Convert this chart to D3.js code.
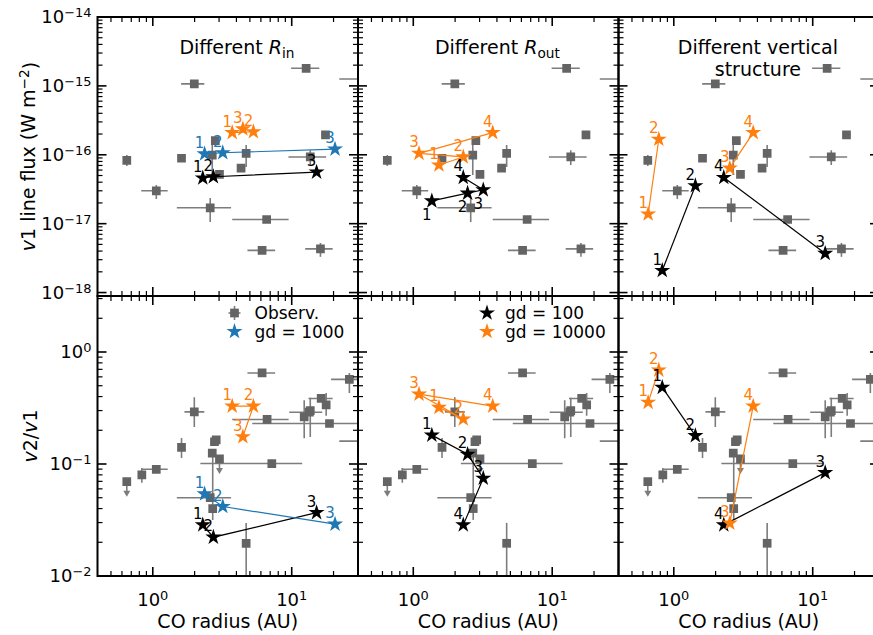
<!DOCTYPE html>
<html><head><meta charset="utf-8">
<script src="https://cdn.jsdelivr.net/npm/d3@7"></script>
<style>
body{margin:0;background:#fff}
svg{display:block}
text{font-family:"DejaVu Sans",sans-serif}
</style>
</head><body>
<svg id="chart" width="873" height="635"></svg>
<script>
// ---- Observed sources: v1 line flux versus CO radius ----
const fluxObsRadius   = [0.65, 1.06, 1.99, 1.61, 2.59, 2.82, 2.68, 3.02, 4.32, 4.70, 6.6, 6.12, 12.7, 13.6, 17.5, 16.1, 35];
const fluxObsValue    = [8.3e-17, 3.0e-17, 1.07e-15, 8.9e-17, 1.7e-17, 1.6e-16, 9.9e-17, 5.2e-17, 6.4e-17, 1.05e-16, 1.15e-17, 4.1e-18, 1.8e-15, 9.3e-17, 1.94e-16, 4.3e-18, 1.26e-15];
const fluxObsRadiusLo = [null, 0.826, 1.60, null, 1.49, null, null, null, null, null, 3.73, 4.8, 9.9, 9.47, 16.4, 12.5, 22];
const fluxObsRadiusHi = [null, 1.28, 2.35, null, 3.66, null, null, null, null, null, 9.5, 7.6, 15.8, 17.7, 18.7, 19.7, 55];
const fluxObsLo       = [6.9e-17, 2.29e-17, null, null, 1.06e-17, null, 5.1e-17, null, null, 6.65e-17, null, null, null, 7.1e-17, null, 3.3e-18, null];
const fluxObsHi       = [9.9e-17, 3.65e-17, null, null, 2.36e-17, null, 1.64e-16, null, null, 1.39e-16, null, null, null, 1.16e-16, null, 5.25e-18, null];

// ---- Observed sources: v2/v1 ratio versus CO radius ----
const ratioObsRadius   = [0.65, 0.834, 1.06, 1.61, 1.99, 2.78, 2.86, 2.68, 3.02, 2.59, 2.70, 4.70, 6.65, 7.19, 6.12, 12.3, 13.4, 13.6, 16.3, 17.7, 18.7, 26, 35];
const ratioObsValue    = [0.0695, 0.080, 0.0897, 0.141, 0.292, 0.158, 0.164, 0.125, 0.111, 0.050, 0.040, 0.0196, 0.25, 0.101, 0.65, 0.264, 0.29, 0.30, 0.385, 0.337, 0.23, 0.57, 0.16];
const ratioObsRadiusLo = [null, null, 0.826, null, 1.69, null, null, null, null, 1.49, null, null, 3.73, 2.2, 4.8, null, 9.6, null, 13.2, null, 5.2, 19.2, 22];
const ratioObsRadiusHi = [null, null, 1.28, null, 2.35, null, null, null, null, 3.66, null, null, 9.5, 11.9, 7.6, null, 16.6, null, 19.7, null, 40, 32, 50];
const ratioObsLo       = [null, 0.068, null, 0.113, 0.214, null, null, null, null, null, 0.0317, 0.008, null, null, null, 0.17, null, 0.174, null, 0.27, null, 0.43, null];
const ratioObsHi       = [null, 0.092, null, 0.171, 0.395, null, null, null, null, null, 0.12, 0.0298, null, null, null, 0.37, null, 0.39, null, 0.43, null, 0.65, null];
const ratioObsUpperLimit = [true, false, false, false, false, false, false, false, true, false, false, false, false, false, false, false, false, false, false, false, false, false, false];

// ---- Models: different inner radius ----
const rinGd100Radius   = [2.29, 2.73, 15.1];
const rinGd100Flux     = [4.6e-17, 4.8e-17, 5.6e-17];
const rinGd100Ratio    = [0.0286, 0.0222, 0.0368];
const rinGd1000Radius  = [2.36, 3.19, 20.5];
const rinGd1000Flux    = [1.03e-16, 1.07e-16, 1.21e-16];
const rinGd1000Ratio   = [0.054, 0.0417, 0.029];
const rinGd10000Radius = [3.73, 5.3, 4.45];
const rinGd10000Flux   = [2.1e-16, 2.16e-16, 2.37e-16];
const rinGd10000Ratio  = [0.329, 0.329, 0.175];

// ---- Models: different outer radius ----
const routGd100Radius   = [1.36, 2.46, 3.19, 2.29];
const routGd100Flux     = [2.14e-17, 2.77e-17, 3.1e-17, 4.68e-17];
const routGd100Ratio    = [0.181, 0.122, 0.0746, 0.0286];
const routGd10000Radius = [1.53, 2.29, 1.10, 3.73];
const routGd10000Flux   = [7.1e-17, 9.3e-17, 1.05e-16, 2.1e-16];
const routGd10000Ratio  = [0.32, 0.252, 0.42, 0.329];

// ---- Models: different vertical structure ----
const vertGd100Radius   = [0.826, 1.43, 12.3, 2.29];
const vertGd100Flux     = [2.09e-18, 3.55e-17, 3.7e-18, 4.68e-17];
const vertGd100Ratio    = [0.483, 0.179, 0.0837, 0.0286];
const vertGd10000Radius = [0.654, 0.78, 2.53, 3.73];
const vertGd10000Flux   = [1.38e-17, 1.68e-16, 6.4e-17, 2.1e-16];
const vertGd10000Ratio  = [0.355, 0.69, 0.0296, 0.329];

// ---- Axis settings ----
const radiusDomain = [0.4, 30];
const fluxDomain   = [Math.pow(10, -18.05), 1e-14];
const ratioDomain  = [0.01, Math.pow(10, 0.5)];
const fluxTickExps  = [-18, -17, -16, -15, -14];
const ratioTickExps = [-2, -1, 0];
const radiusTickExps = [0, 1];

const C_BLACK = "#000000", C_BLUE = "#1f77b4", C_ORANGE = "#ff7f0e";

// Each column: title, list of model series, and how the points are chained by lines
const columns = [
  { title: ["Different ", "R", "in"],
    series: [
      { name: "gd = 100",   color: C_BLACK,  r: rinGd100Radius,   f: rinGd100Flux,   q: rinGd100Ratio,   chains: [[0,1,2]] },
      { name: "gd = 1000",  color: C_BLUE,   r: rinGd1000Radius,  f: rinGd1000Flux,  q: rinGd1000Ratio,  chains: [[0,1,2]] },
      { name: "gd = 10000", color: C_ORANGE, r: rinGd10000Radius, f: rinGd10000Flux, q: rinGd10000Ratio, chains: [[0,1,2]] }
    ]},
  { title: ["Different ", "R", "out"],
    series: [
      { name: "gd = 100",   color: C_BLACK,  r: routGd100Radius,   f: routGd100Flux,   q: routGd100Ratio,   chains: [[0,1,2,3]], fluxLabelsBelow: [true,true,true,false] },
      { name: "gd = 10000", color: C_ORANGE, r: routGd10000Radius, f: routGd10000Flux, q: routGd10000Ratio, chains: [[0,1,2,3]] }
    ]},
  { title: ["Different vertical", "structure"],
    series: [
      { name: "gd = 100",   color: C_BLACK,  r: vertGd100Radius,   f: vertGd100Flux,   q: vertGd100Ratio,   chains: [[0,1],[2,3]] },
      { name: "gd = 10000", color: C_ORANGE, r: vertGd10000Radius, f: vertGd10000Flux, q: vertGd10000Ratio, chains: [[0,1],[2,3]] }
    ]}
];

// ---- Layout ----
const svg = d3.select("#chart");
const panelW = 260.5;
const colLeft = [97.5, 358, 618.5];
const rowTop = [17, 296];
const rowH = [279, 280];

const OBS_FILL = "#646464", OBS_ERR = "#7d7d7d";

function supText(sel, base, exp) {
  sel.append("tspan").text(base);
  sel.append("tspan").attr("dy", "-0.45em").attr("font-size", "0.72em")
     .text(exp < 0 ? "\u2212" + (-exp) : String(exp));
}

function logTickValues(domain) {
  const lo = Math.floor(Math.log10(domain[0])), hi = Math.ceil(Math.log10(domain[1]));
  const major = [], minor = [];
  for (let e = lo; e <= hi; e++) {
    const b = Math.pow(10, e);
    if (b >= domain[0] * 0.999 && b <= domain[1] * 1.001) major.push(b);
    for (let m = 2; m <= 9; m++) {
      const v = m * b;
      if (v > domain[0] && v < domain[1]) minor.push(v);
    }
  }
  return { major, minor };
}

const starSym = d3.symbol().type(d3.symbolStar).size(80);
const squareSym = d3.symbol().type(d3.symbolSquare).size(76);

for (let row = 0; row < 2; row++) {
  for (let col = 0; col < 3; col++) {
    const H = rowH[row];
    const g = svg.append("g").attr("transform", `translate(${colLeft[col]},${rowTop[row]})`);
    const clipId = `clip-${row}-${col}`;
    g.append("clipPath").attr("id", clipId).append("rect").attr("width", panelW).attr("height", H);

    const x = d3.scaleLog().domain(radiusDomain).range([0, panelW]);
    const y = d3.scaleLog().domain(row === 0 ? fluxDomain : ratioDomain).range([H, 0]);

    const plot = g.append("g").attr("clip-path", `url(#${clipId})`);

    // observations with error bars
    const ox = row === 0 ? fluxObsRadius : ratioObsRadius;
    const oy = row === 0 ? fluxObsValue : ratioObsValue;
    const oxLo = row === 0 ? fluxObsRadiusLo : ratioObsRadiusLo;
    const oxHi = row === 0 ? fluxObsRadiusHi : ratioObsRadiusHi;
    const oyLo = row === 0 ? fluxObsLo : ratioObsLo;
    const oyHi = row === 0 ? fluxObsHi : ratioObsHi;
    const errG = plot.append("g").attr("stroke", OBS_ERR).attr("stroke-width", 1.6).attr("fill", "none");
    ox.forEach((xv, i) => {
      const px = x(xv), py = y(oy[i]);
      if (oxLo[i] != null) errG.append("line").attr("x1", x(oxLo[i])).attr("x2", x(oxHi[i])).attr("y1", py).attr("y2", py);
      if (oyLo[i] != null) errG.append("line").attr("x1", px).attr("x2", px).attr("y1", y(oyLo[i])).attr("y2", y(oyHi[i]));
      if (row === 1 && ratioObsUpperLimit[i]) {
        errG.append("line").attr("x1", px).attr("x2", px).attr("y1", py).attr("y2", py + 10);
        plot.append("path").attr("fill", OBS_ERR)
          .attr("d", `M${px - 3.5},${py + 9}L${px + 3.5},${py + 9}L${px},${py + 15}Z`);
      }
    });
    plot.append("g").selectAll("path").data(ox).join("path")
      .attr("transform", (d, i) => `translate(${x(d)},${y(oy[i])})`)
      .attr("d", squareSym()).attr("fill", OBS_FILL);

    // model tracks
    const colCfg = columns[col];
    colCfg.series.forEach(s => {
      const vals = row === 0 ? s.f : s.q;
      const line = d3.line().x(i => x(s.r[i])).y(i => y(vals[i]));
      s.chains.forEach(ch => {
        plot.append("path").attr("d", line(ch)).attr("fill", "none")
          .attr("stroke", s.color).attr("stroke-width", 1.2);
      });
    });
    colCfg.series.forEach(s => {
      const vals = row === 0 ? s.f : s.q;
      plot.append("g").selectAll("path").data(s.r).join("path")
        .attr("transform", (d, i) => `translate(${x(d)},${y(vals[i])})`)
        .attr("d", starSym()).attr("fill", s.color);
    });
    colCfg.series.forEach(s => {
      const vals = row === 0 ? s.f : s.q;
      g.append("g").selectAll("text").data(s.r).join("text")
        .attr("x", d => x(d) - 5)
        .attr("y", (d, i) => {
          const below = row === 0 && s.fluxLabelsBelow && s.fluxLabelsBelow[i];
          return y(vals[i]) + (below ? 19 : -6);
        })
        .attr("text-anchor", "middle").attr("font-size", 15).attr("fill", s.color)
        .text((d, i) => i + 1);
    });

    // frame
    g.append("rect").attr("width", panelW).attr("height", H)
      .attr("fill", "none").attr("stroke", "#000").attr("stroke-width", 2);

    // inward ticks on all four sides
    const tg = g.append("g").attr("stroke", "#000");
    const xt = logTickValues(radiusDomain);
    const yt = logTickValues(y.domain());
    const MAJ = 9, MIN = 5;
    [[xt.major, MAJ, 1.6], [xt.minor, MIN, 1.2]].forEach(([vals, len, w]) => {
      vals.forEach(v => {
        const px = x(v);
        tg.append("line").attr("x1", px).attr("x2", px).attr("y1", 0).attr("y2", len).attr("stroke-width", w);
        tg.append("line").attr("x1", px).attr("x2", px).attr("y1", H).attr("y2", H - len).attr("stroke-width", w);
      });
    });
    [[yt.major, MAJ, 1.6], [yt.minor, MIN, 1.2]].forEach(([vals, len, w]) => {
      vals.forEach(v => {
        const py = y(v);
        tg.append("line").attr("x1", 0).attr("x2", len).attr("y1", py).attr("y2", py).attr("stroke-width", w);
        tg.append("line").attr("x1", panelW).attr("x2", panelW - len).attr("y1", py).attr("y2", py).attr("stroke-width", w);
      });
    });

    // tick labels
    if (col === 0) {
      const exps = row === 0 ? fluxTickExps : ratioTickExps;
      exps.forEach(e => {
        const t = g.append("text").attr("x", -6).attr("y", y(Math.pow(10, e)) + 6)
          .attr("text-anchor", "end").attr("font-size", 18).attr("fill", "#000");
        supText(t, "10", e);
      });
    }
    if (row === 1) {
      radiusTickExps.forEach(e => {
        const t = g.append("text").attr("x", x(Math.pow(10, e))).attr("y", H + 30)
          .attr("text-anchor", "middle").attr("font-size", 18).attr("fill", "#000");
        supText(t, "10", e);
      });
      g.append("text").attr("x", panelW / 2).attr("y", H + 52).attr("text-anchor", "middle")
        .attr("font-size", 19).attr("fill", "#000").text("CO radius (AU)");
    }

    // column titles
    if (row === 0) {
      const tx = panelW * 0.535;
      if (colCfg.title.length === 3) {
        const t = g.append("text").attr("x", tx).attr("y", 37).attr("text-anchor", "middle")
          .attr("font-size", 19).attr("fill", "#000");
        t.append("tspan").text(colCfg.title[0]);
        t.append("tspan").attr("font-style", "italic").text(colCfg.title[1]);
        t.append("tspan").attr("font-size", "0.72em").attr("dy", "0.3em").text(colCfg.title[2]);
      } else {
        colCfg.title.forEach((line, k) => {
          g.append("text").attr("x", tx).attr("y", 37 + 22 * k).attr("text-anchor", "middle")
            .attr("font-size", 19).attr("fill", "#000").text(line);
        });
      }
    }

    // legends
    if (row === 1 && col < 2) {
      const lg = g.append("g").attr("transform", `translate(${col === 0 ? 137 : 129},17)`);
      const items = col === 0
        ? [{ kind: "obs", label: "Observ." }, { kind: "star", color: C_BLUE, label: "gd = 1000" }]
        : [{ kind: "star", color: C_BLACK, label: "gd = 100" }, { kind: "star", color: C_ORANGE, label: "gd = 10000" }];
      items.forEach((it, k) => {
        const yy = k * 18.5;
        if (it.kind === "obs") {
          lg.append("line").attr("x1", -6).attr("x2", 6).attr("y1", yy).attr("y2", yy).attr("stroke", OBS_ERR).attr("stroke-width", 1.6);
          lg.append("line").attr("x1", 0).attr("x2", 0).attr("y1", yy - 7).attr("y2", yy + 7).attr("stroke", OBS_ERR).attr("stroke-width", 1.6);
          lg.append("path").attr("transform", `translate(0,${yy})`).attr("d", squareSym()).attr("fill", OBS_FILL);
        } else {
          lg.append("path").attr("transform", `translate(0,${yy})`).attr("d", starSym()).attr("fill", it.color);
        }
        lg.append("text").attr("x", col === 0 ? 20 : 18).attr("y", yy + 6).attr("font-size", 17)
          .attr("fill", "#000").text(it.label);
      });
    }
  }
}

// y-axis titles
const yl1 = svg.append("text").attr("transform", `translate(35,${rowTop[0] + rowH[0] / 2}) rotate(-90)`)
  .attr("text-anchor", "middle").attr("font-size", 19).attr("fill", "#000");
yl1.append("tspan").attr("font-style", "italic").text("v");
yl1.append("tspan").text("1 line flux (W m");
yl1.append("tspan").attr("dy", "-0.45em").attr("font-size", "0.72em").text("\u22122");
yl1.append("tspan").attr("dy", "0.45em").text(")");

const yl2 = svg.append("text").attr("transform", `translate(37,${rowTop[1] + rowH[1] / 2}) rotate(-90)`)
  .attr("text-anchor", "middle").attr("font-size", 19).attr("fill", "#000");
yl2.append("tspan").attr("font-style", "italic").text("v");
yl2.append("tspan").text("2/");
yl2.append("tspan").attr("font-style", "italic").text("v");
yl2.append("tspan").text("1");
</script>
</body></html>
